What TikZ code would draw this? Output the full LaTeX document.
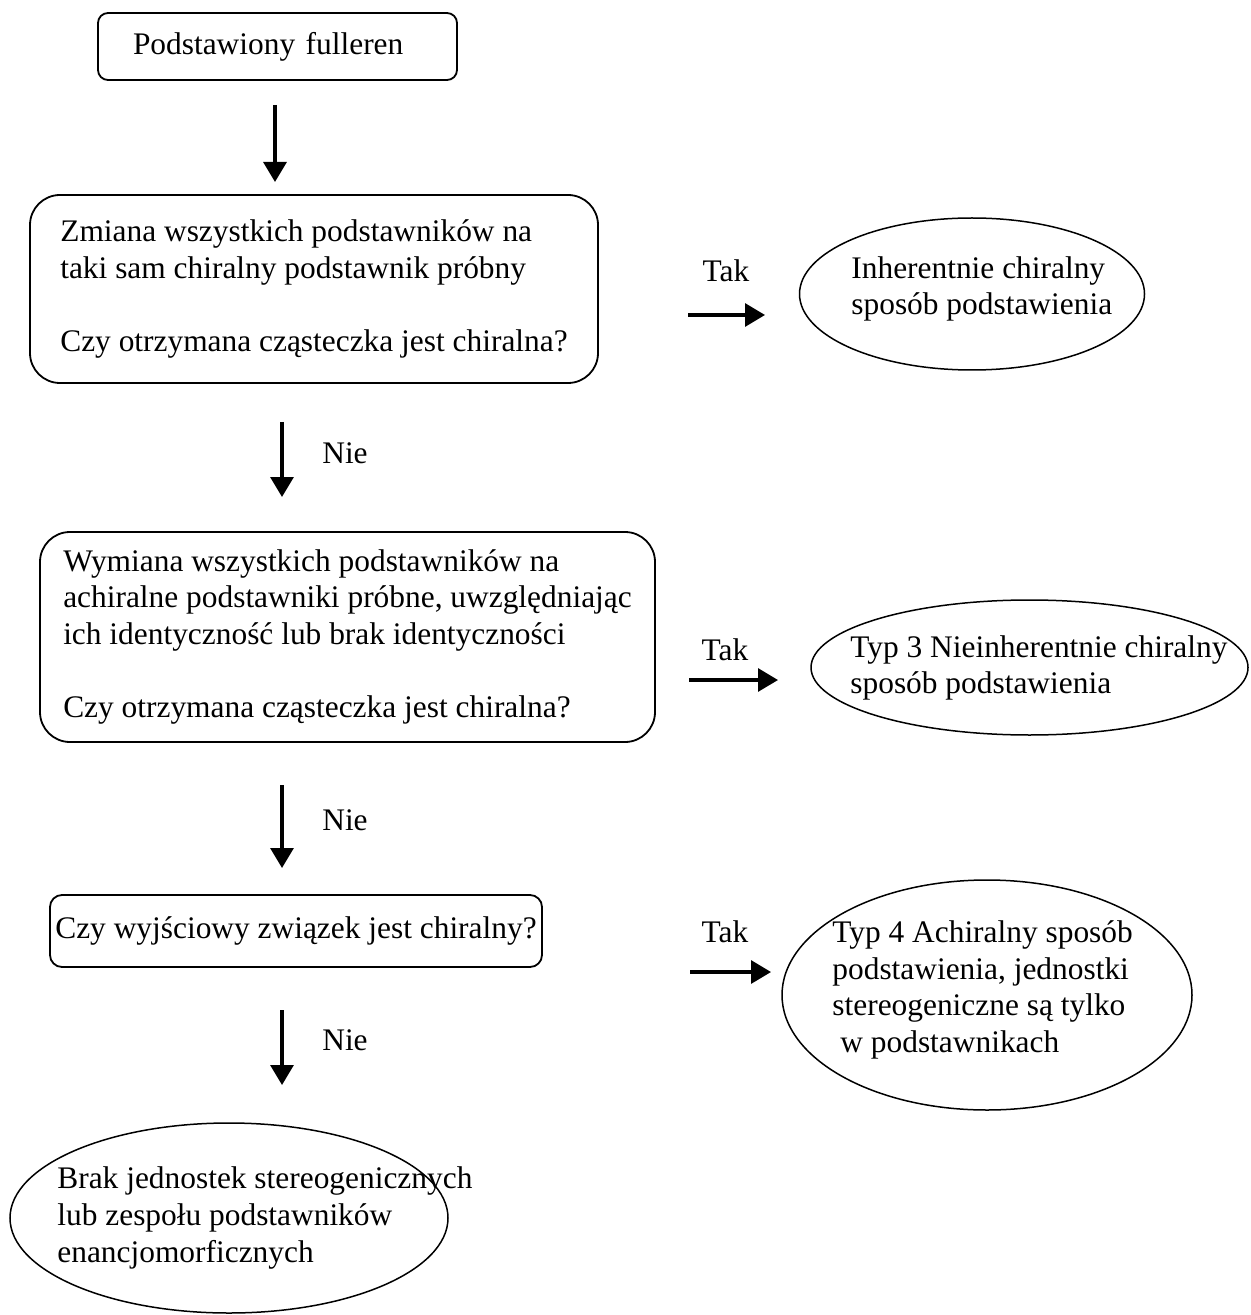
\documentclass[tikz,border=0pt]{standalone}
\usepackage{fontspec}
\setmainfont{Liberation Serif}
\usetikzlibrary{positioning,arrows.meta,shapes.geometric}
\tikzset{
  box/.style={rectangle, draw=black, line width=0.9pt, align=left, inner xsep=1pt, inner ysep=0pt},
  oval/.style={ellipse, draw=black, line width=0.75pt, inner sep=0pt},
  ovaltxt/.style={anchor=west, align=left, inner sep=0pt},
  lbl/.style={inner sep=0pt},
  arr/.style={line width=1.6pt, -{Triangle[width=11.5pt,length=10pt]}},
}

\begin{document}
\begin{tikzpicture}[
  x=0.5pt, y=-0.5pt,
  font=\fontsize{15.7}{18.3}\selectfont
]
  \useasboundingbox (0,0) rectangle (1250,1315);

  \node[box, rounded corners=5pt, inner xsep=17.5pt, text width=144.5pt, minimum height=33.5pt] (start) at (277.5,46.5) {Podstawiony fulleren};
  \node[box, rounded corners=15pt, minimum width=284pt, minimum height=94pt] (q1) at (314,289)
    {Zmiana wszystkich podstawników na\\ taki sam chiralny podstawnik próbny\\[18.3pt] Czy otrzymana cząsteczka jest chiralna?};
  \node[box, rounded corners=15pt, minimum width=307.5pt, minimum height=105pt] (q2) at (347.5,637)
    {Wymiana wszystkich podstawników na\\ achiralne podstawniki próbne, uwzględniając\\ ich identyczność lub brak identyczności\\[18.3pt] Czy otrzymana cząsteczka jest chiralna?};
  \node[box, rounded corners=6pt, minimum width=246pt, minimum height=36pt] (q3) at (296,931)
    {Czy wyjściowy związek jest chiralny?};

  \node[oval, minimum width=172.5pt, minimum height=76pt] (r1) at (972,294) {};
  \node[ovaltxt] (r1txt) at (851,289) {Inherentnie chiralny\\ sposób podstawienia};
  \node[oval, minimum width=218.5pt, minimum height=67.5pt] (r2) at (1029.5,667.5) {};
  \node[ovaltxt] (r2txt) at (850,668) {Typ 3 Nieinherentnie chiralny\\ sposób podstawienia};
  \node[oval, minimum width=205pt, minimum height=115pt] (r3) at (987,995) {};
  \node[ovaltxt] (r3txt) at (832,990) {Typ 4 Achiralny sposób\\ podstawienia, jednostki\\ stereogeniczne są tylko\\ \hspace*{4pt}w podstawnikach};
  \node[oval, minimum width=219pt, minimum height=95pt] (r4) at (229,1218) {};
  \node[ovaltxt] (r4txt) at (57,1218) {Brak jednostek stereogenicznych\\ lub zespołu podstawników\\ enancjomorficznych};

  \coordinate (d1a) at (275,105);  \coordinate (d1b) at (275,182);
  \coordinate (d2a) at (282,422);  \coordinate (d2b) at (282,497);
  \coordinate (d3a) at (282,785);  \coordinate (d3b) at (282,868);
  \coordinate (d4a) at (282,1010); \coordinate (d4b) at (282,1085);
  \coordinate (t1a) at (688,315);  \coordinate (t1b) at (765,315);
  \coordinate (t2a) at (689,680);  \coordinate (t2b) at (778,680);
  \coordinate (t3a) at (690,972);  \coordinate (t3b) at (771,972);

  \draw[arr] (d1a) -- (d1b);
  \draw[arr] (d2a) -- (d2b);
  \draw[arr] (d3a) -- (d3b);
  \draw[arr] (d4a) -- (d4b);
  \draw[arr] (t1a) -- (t1b);
  \draw[arr] (t2a) -- (t2b);
  \draw[arr] (t3a) -- (t3b);

  \node[lbl] (nie1) at (345,453) {Nie};
  \node[lbl] (nie2) at (345,820) {Nie};
  \node[lbl] (nie3) at (345,1040) {Nie};
  \node[lbl] (tak1) at (726,271) {Tak};
  \node[lbl] (tak2) at (725,650) {Tak};
  \node[lbl] (tak3) at (725,932) {Tak};
\end{tikzpicture}
\end{document}
